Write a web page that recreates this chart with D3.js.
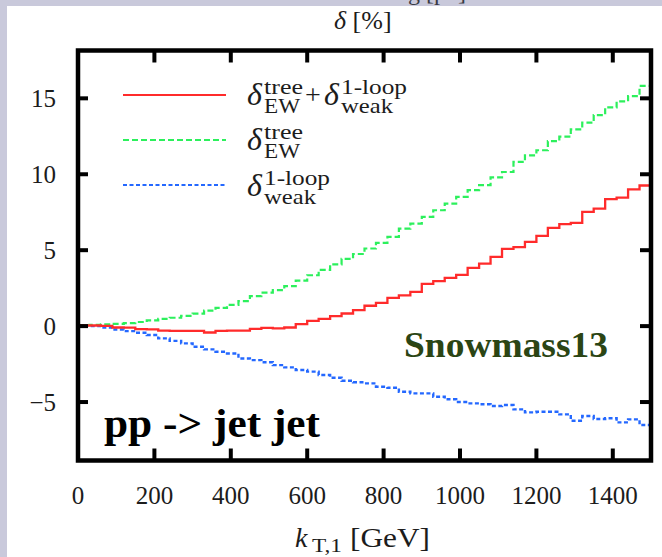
<!DOCTYPE html>
<html>
<head>
<meta charset="utf-8">
<script src="https://cdn.jsdelivr.net/npm/d3@7/dist/d3.min.js"></script>
<style>
  html, body { margin: 0; padding: 0; background: #c9c9db; }
  svg { display: block; }
  svg text { font-family: 'Liberation Serif', 'Times New Roman', serif; fill: #1c1c1c; }
</style>
</head>
<body>
<svg id="chart" width="662" height="557"></svg>
<script>
// k_T,1 bins of 30 GeV, 0 .. 1500
var binWidth = 30;
var binCount = 50;

// delta_EW^tree + delta_weak^1-loop  [%]
var sumValues = [
  0.05, 0.04, 0.02, -0.09, -0.1, -0.2, -0.22, -0.3, -0.31, -0.31,
  -0.31, -0.42, -0.31, -0.3, -0.3, -0.18, -0.12, -0.15, -0.09, 0.13,
  0.35, 0.48, 0.66, 0.83, 1.05, 1.34, 1.53, 1.86, 2.02, 2.26,
  2.78, 2.96, 3.18, 3.38, 3.84, 4.12, 4.56, 5.09, 5.2, 5.55,
  5.94, 6.47, 6.71, 6.8, 7.52, 7.74, 8.36, 8.46, 9.0, 9.26
];

// delta_EW^tree  [%]
var treeValues = [
  0.06, 0.08, 0.11, 0.15, 0.2, 0.27, 0.38, 0.48, 0.55, 0.68,
  0.82, 1.02, 1.2, 1.4, 1.65, 1.98, 2.2, 2.37, 2.63, 3.0,
  3.35, 3.7, 4.06, 4.43, 4.75, 5.11, 5.48, 5.88, 6.42, 6.75,
  7.19, 7.63, 8.07, 8.51, 8.95, 9.28, 9.8, 10.15, 10.81, 11.25,
  11.58, 12.18, 12.48, 12.95, 13.4, 13.9, 14.4, 14.8, 15.15, 15.82
];

// delta_weak^1-loop  [%]
var loopValues = [
  0.02, 0.0, -0.09, -0.22, -0.33, -0.44, -0.59, -0.81, -0.97, -1.14,
  -1.36, -1.53, -1.69, -1.8, -2.13, -2.24, -2.38, -2.57, -2.72, -2.89,
  -3.0, -3.22, -3.4, -3.6, -3.7, -3.77, -3.99, -4.06, -4.32, -4.43,
  -4.43, -4.65, -4.82, -5.0, -5.09, -5.15, -5.26, -5.2, -5.48, -5.68,
  -5.64, -5.64, -5.81, -6.23, -5.92, -6.12, -6.07, -6.34, -6.14, -6.51
];

var xTicks = [0, 200, 400, 600, 800, 1000, 1200, 1400];
var yTicks = [-5, 0, 5, 10, 15];
var xDomain = [0, 1500];
var yDomain = [-8.85, 18.15];

var serif = "'Liberation Serif', 'Times New Roman', serif";
var svg = d3.select('#chart').attr('font-family', serif);

// cut-off caption of the slide above the plot (only its descenders show)
svg.append('text')
  .attr('x', 466).attr('y', 0)
  .attr('text-anchor', 'end')
  .attr('font-family', serif)
  .style('font-size', '24px')
  .style('fill', '#3a3a44')
  .text('ng [pb]');

// white sheet over the lavender page
svg.append('rect')
  .attr('x', 7).attr('y', 6)
  .attr('width', 662).attr('height', 557)
  .attr('fill', '#ffffff');

var x = d3.scaleLinear().domain(xDomain).range([78, 651]);
var y = d3.scaleLinear().domain(yDomain).range([460.5, 50.5]);

function toSteps(values) {
  var pts = values.map(function(v, i) { return [i * binWidth, v]; });
  pts.push([binCount * binWidth, values[values.length - 1]]);
  return pts;
}

var stepLine = d3.line()
  .x(function(d) { return x(d[0]); })
  .y(function(d) { return y(d[1]); })
  .curve(d3.curveStepAfter);

var series = [
  { name: 'sum', values: sumValues, color: '#ff2b2b', dash: null, width: 2.3 },
  { name: 'tree', values: treeValues, color: '#2cf05c', dash: '6,3', width: 2.2 },
  { name: 'loop', values: loopValues, color: '#2468ff', dash: '4,2.5', width: 2.4 }
];

var plot = svg.append('g').attr('class', 'plot');

plot.selectAll('path.series')
  .data(series.slice().reverse())
  .enter()
  .append('path')
  .attr('class', 'series')
  .attr('d', function(s) { return stepLine(toSteps(s.values)); })
  .attr('fill', 'none')
  .attr('stroke', function(s) { return s.color; })
  .attr('stroke-width', function(s) { return s.width; })
  .attr('stroke-dasharray', function(s) { return s.dash; });

// frame
var frame = svg.append('g').attr('class', 'frame');
frame.append('rect')
  .attr('x', x(xDomain[0])).attr('y', y(yDomain[1]))
  .attr('width', x(xDomain[1]) - x(xDomain[0]))
  .attr('height', y(yDomain[0]) - y(yDomain[1]))
  .attr('fill', 'none')
  .attr('stroke', '#000')
  .attr('stroke-width', 4.5);

// inward ticks on all four sides
var tickLen = 12;
frame.selectAll('line.xt-bottom')
  .data(xTicks.slice(1))
  .enter().append('line')
  .attr('x1', x).attr('x2', x)
  .attr('y1', y(yDomain[0])).attr('y2', y(yDomain[0]) - tickLen)
  .attr('stroke', '#000').attr('stroke-width', 4);
frame.selectAll('line.xt-top')
  .data(xTicks.slice(1))
  .enter().append('line')
  .attr('x1', x).attr('x2', x)
  .attr('y1', y(yDomain[1])).attr('y2', y(yDomain[1]) + tickLen)
  .attr('stroke', '#000').attr('stroke-width', 4);
frame.selectAll('line.yt-left')
  .data(yTicks)
  .enter().append('line')
  .attr('x1', x(xDomain[0])).attr('x2', x(xDomain[0]) + tickLen - 2)
  .attr('y1', y).attr('y2', y)
  .attr('stroke', '#000').attr('stroke-width', 4);
frame.selectAll('line.yt-right')
  .data(yTicks)
  .enter().append('line')
  .attr('x1', x(xDomain[1])).attr('x2', x(xDomain[1]) - tickLen + 1)
  .attr('y1', y).attr('y2', y)
  .attr('stroke', '#000').attr('stroke-width', 4);

// tick labels
svg.selectAll('text.xlabel')
  .data(xTicks)
  .enter().append('text')
  .attr('class', 'xlabel')
  .attr('font-family', serif)
  .attr('x', x)
  .attr('y', 504)
  .attr('text-anchor', 'middle')
  .style('font-size', '25px')
  .text(function(d) { return d; });

svg.selectAll('text.ylabel')
  .data(yTicks)
  .enter().append('text')
  .attr('class', 'ylabel')
  .attr('font-family', serif)
  .attr('x', 56)
  .attr('y', function(d) { return y(d) + 8.5; })
  .attr('text-anchor', 'end')
  .style('font-size', '25px')
  .text(function(d) { return d < 0 ? '\u2212' + (-d) : d; });

// axis titles
var yTitle = svg.append('text')
  .attr('font-family', serif)
  .attr('x', 334).attr('y', 29)
  .style('font-size', '26px');
yTitle.append('tspan').style('font-style', 'italic').text('\u03b4');
yTitle.append('tspan').text(' [%]');

var xTitle = svg.append('g').attr('class', 'x-title');
xTitle.append('text')
  .attr('font-family', serif)
  .attr('x', 295).attr('y', 547)
  .style('font-size', '28px').style('font-style', 'italic')
  .text('k');
xTitle.append('text')
  .attr('font-family', serif)
  .attr('x', 312).attr('y', 552)
  .attr('textLength', 30).attr('lengthAdjust', 'spacingAndGlyphs')
  .style('font-size', '19px')
  .text('T,1');
xTitle.append('text')
  .attr('font-family', serif)
  .attr('x', 350).attr('y', 547)
  .attr('textLength', 80).attr('lengthAdjust', 'spacingAndGlyphs')
  .style('font-size', '27px')
  .text('[GeV]');

// legend
var legendRows = [
  { key: 'sum', yy: 95 },
  { key: 'tree', yy: 140 },
  { key: 'loop', yy: 185 }
];
var legend = svg.append('g').attr('class', 'legend');
legendRows.forEach(function(row) {
  var s = series.filter(function(d) { return d.name === row.key; })[0];
  legend.append('line')
    .attr('x1', 123).attr('x2', 226)
    .attr('y1', row.yy).attr('y2', row.yy)
    .attr('stroke', s.color)
    .attr('stroke-width', s.width - 0.4)
    .attr('stroke-dasharray', s.dash);
});

var scriptWidth = { 'tree': 39, 'EW': 36, '1-loop': 66, 'weak': 52 };

function script(g, x0, yy, str) {
  g.append('text')
    .attr('font-family', serif)
    .attr('x', x0).attr('y', yy)
    .attr('textLength', scriptWidth[str])
    .attr('lengthAdjust', 'spacingAndGlyphs')
    .style('font-size', '21px')
    .text(str);
}

function delta(g, x0, base, sup, sub) {
  g.append('text')
    .attr('font-family', serif)
    .attr('x', x0).attr('y', base)
    .style('font-size', '32px').style('font-style', 'italic')
    .text('\u03b4');
  script(g, x0 + 17, base - 11, sup);
  script(g, x0 + 17, base + 8, sub);
}

delta(legend, 247, 105, 'tree', 'EW');
legend.append('text')
  .attr('font-family', serif)
  .attr('x', 305).attr('y', 104)
  .style('font-size', '28px')
  .text('+');
delta(legend, 324, 105, '1-loop', 'weak');
delta(legend, 247, 150, 'tree', 'EW');
delta(legend, 247, 196, '1-loop', 'weak');

// annotations
svg.append('text')
  .attr('font-family', serif)
  .attr('x', 404).attr('y', 357)
  .attr('textLength', 204)
  .attr('lengthAdjust', 'spacingAndGlyphs')
  .style('font-size', '36px')
  .style('font-weight', 'bold')
  .style('fill', '#2b4514')
  .text('Snowmass13');

svg.append('text')
  .attr('font-family', serif)
  .attr('x', 104).attr('y', 437)
  .attr('textLength', 216)
  .attr('lengthAdjust', 'spacingAndGlyphs')
  .style('font-size', '39px')
  .style('font-weight', 'bold')
  .style('fill', '#000')
  .text('pp -> jet jet');
</script>
</body>
</html>
